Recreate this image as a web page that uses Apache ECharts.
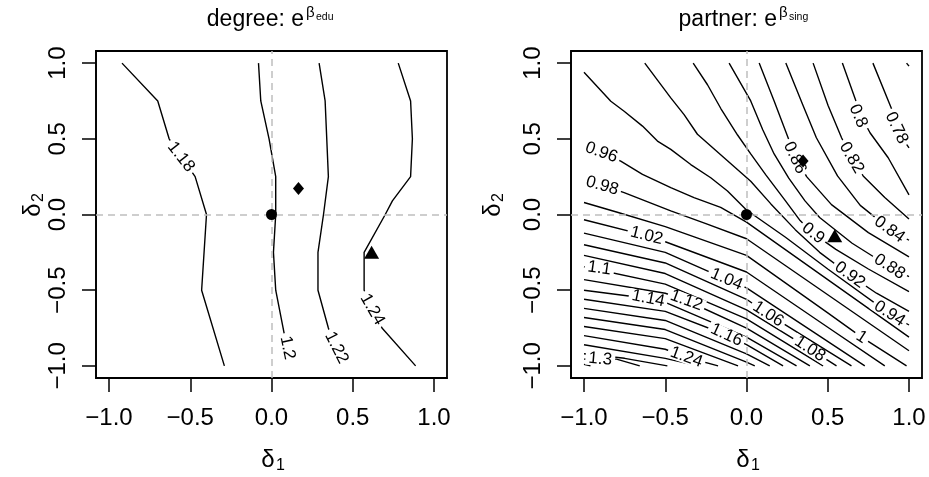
<!DOCTYPE html>
<html>
<head>
<meta charset="utf-8">
<script src="https://cdn.jsdelivr.net/npm/echarts@6.0.0/dist/echarts.min.js"></script>
<style>
html, body { margin: 0; padding: 0; background: #fff; }
#main { width: 929px; height: 477px; }
</style>
</head>
<body>
<div id="main"></div>
<script>
var FONT = '"Liberation Sans", Arial, sans-serif';

// axis ticks
var ticks = [-1, -0.5, 0, 0.5, 1];
var tickLabels = ['\u22121.0', '\u22120.5', '0.0', '0.5', '1.0'];

// left panel: degree, contour levels and their paths
var degreeLevels = ['1.18', '1.2', '1.22', '1.24'];
var degreeLines = [
  [[-0.92, 1], [-0.70, 0.75], [-0.63, 0.5], [-0.47, 0.25], [-0.40, 0], [-0.43, -0.5], [-0.29, -1]],
  [[-0.08, 1], [-0.066, 0.75], [-0.015, 0.5], [0.026, 0.25], [0.026, 0], [0.012, -0.25], [0.026, -0.5], [0.077, -0.78], [0.098, -0.94]],
  [[0.293, 1], [0.33, 0.75], [0.34, 0.5], [0.35, 0.25], [0.32, 0], [0.286, -0.25], [0.286, -0.5], [0.35, -0.75], [0.41, -0.94]],
  [[0.78, 1], [0.856, 0.75], [0.867, 0.5], [0.856, 0.25], [0.744, 0.09], [0.70, 0], [0.57, -0.25], [0.57, -0.5], [0.68, -0.75], [0.887, -1]]
];
// label: x, y, angle
var degreeLabelPos = [[-0.557, 0.38, -52], [0.098, -0.88, -78], [0.40, -0.88, -63], [0.62, -0.627, -60]];
var degreePoints = [[0, 0], [0.166, 0.171], [0.616, -0.25]];

// right panel: partner
var partnerLevels = ['0.76', '0.78', '0.8', '0.82', '0.84', '0.86', '0.88', '0.9', '0.92', '0.94', '0.96', '0.98', '1',
  '1.02', '1.04', '1.06', '1.08', '1.1', '1.12', '1.14', '1.16', '1.18', '1.2', '1.22', '1.24', '1.26', '1.28', '1.3', '1.32'];
var partnerLines = [
  [[0.985, 1], [1, 0.98]],
  [[0.778, 1], [0.892, 0.70], [0.95, 0.52], [1, 0.44]],
  [[0.59, 1], [0.667, 0.77], [0.71, 0.64], [0.76, 0.54], [0.872, 0.375], [1, 0.13]],
  [[0.41, 1], [0.502, 0.72], [0.585, 0.507], [0.646, 0.375], [0.718, 0.255], [0.851, 0.112], [1, -0.03]],
  [[0.242, 1], [0.348, 0.72], [0.43, 0.507], [0.56, 0.255], [0.70, 0.06], [0.88, -0.095], [1, -0.17]],
  [[0.078, 1], [0.17, 0.75], [0.256, 0.507], [0.297, 0.39], [0.37, 0.25], [0.523, 0.065], [0.75, -0.12], [1, -0.28]],
  [[-0.107, 1], [0.026, 0.75], [0.10, 0.56], [0.17, 0.40], [0.26, 0.24], [0.36, 0.09], [0.45, -0.02], [0.65, -0.19], [0.88, -0.345], [1, -0.41]],
  [[-0.328, 1], [-0.24, 0.857], [-0.158, 0.70], [-0.055, 0.525], [0.026, 0.40], [0.12, 0.26], [0.24, 0.09], [0.33, -0.04], [0.41, -0.125], [0.55, -0.23], [0.75, -0.36], [1, -0.51]],
  [[-0.626, 1], [-0.466, 0.77], [-0.384, 0.66], [-0.302, 0.53], [-0.138, 0.375], [0.026, 0.22], [0.15, 0.07], [0.3, -0.10], [0.45, -0.25], [0.636, -0.40], [0.8, -0.52], [1, -0.64]],
  [[-1, 0.94], [-0.835, 0.748], [-0.753, 0.682], [-0.64, 0.584], [-0.548, 0.485], [-0.466, 0.43], [-0.343, 0.33], [-0.22, 0.243], [-0.117, 0.155], [0, 0.03], [0.24, -0.15], [0.5, -0.36], [0.88, -0.655], [1, -0.73]],
  [[-1, 0.45], [-0.886, 0.41], [-0.774, 0.353], [-0.64, 0.265], [-0.466, 0.178], [-0.323, 0.112], [-0.159, 0.047], [0, -0.05], [0.5, -0.43], [1, -0.81]],
  [[-1, 0.215], [-0.876, 0.19], [-0.753, 0.145], [-0.466, 0.024], [-0.25, -0.06], [0, -0.16], [0.5, -0.53], [1, -0.90]],
  [[-1, 0.079], [-0.795, 0.015], [-0.5, -0.08], [0, -0.27], [0.5, -0.65], [0.708, -0.81], [0.985, -1]],
  [[-1, -0.035], [-0.615, -0.14], [-0.5, -0.18], [0, -0.38], [0.5, -0.745], [0.851, -1]],
  [[-1, -0.123], [-0.5, -0.25], [-0.123, -0.428], [0, -0.485], [0.728, -1]],
  [[-1, -0.20], [-0.5, -0.32], [0, -0.56], [0.133, -0.658], [0.646, -1]],
  [[-1, -0.27], [-0.5, -0.39], [0, -0.63], [0.39, -0.888], [0.554, -1]],
  [[-1, -0.345], [-0.5, -0.46], [0, -0.69], [0.471, -1]],
  [[-1, -0.43], [-0.5, -0.52], [-0.37, -0.568], [0, -0.75], [0.39, -1]],
  [[-1, -0.50], [-0.605, -0.555], [-0.5, -0.58], [0, -0.81], [0.308, -1]],
  [[-1, -0.56], [-0.5, -0.64], [-0.123, -0.796], [0, -0.86], [0.225, -1]],
  [[-1, -0.62], [-0.5, -0.70], [0, -0.92], [0.143, -1]],
  [[-1, -0.68], [-0.5, -0.76], [0, -0.975], [0.051, -1]],
  [[-1, -0.74], [-0.5, -0.82], [-0.052, -1]],
  [[-1, -0.80], [-0.5, -0.89], [-0.37, -0.943], [-0.175, -1]],
  [[-1, -0.86], [-0.5, -0.95], [-0.30, -1]],
  [[-1, -0.92], [-0.75, -0.95], [-0.487, -1]],
  [[-1, -0.955], [-0.8, -0.955], [-0.657, -1]],
  [[-1, -0.99], [-0.96, -1]]
];
// labelled levels only: text, x, y, angle
var partnerLabelText = ['0.78', '0.8', '0.82', '0.84', '0.86', '0.88', '0.9', '0.92', '0.94', '0.96', '0.98', '1',
  '1.02', '1.04', '1.06', '1.08', '1.1', '1.12', '1.14', '1.16', '1.24', '1.3'];
var partnerLabelPos = [
  [0.923, 0.572, -65], [0.687, 0.65, -67], [0.646, 0.375, -60], [0.88, -0.099, -36], [0.297, 0.375, -65],
  [0.88, -0.345, -33], [0.41, -0.125, -38], [0.636, -0.40, -36], [0.88, -0.655, -33], [-0.893, 0.41, -20],
  [-0.888, 0.19, -16], [0.708, -0.81, -33], [-0.615, -0.14, -14], [-0.123, -0.428, -23], [0.133, -0.658, -33],
  [0.39, -0.888, -33], [-0.905, -0.355, -8], [-0.37, -0.568, -20], [-0.605, -0.555, -12], [-0.123, -0.796, -25],
  [-0.37, -0.943, -20], [-0.9, -0.956, -5]
];
var partnerPoints = [[0, 0], [0.348, 0.353], [0.543, -0.14]];
var pointSymbols = ['circle', 'diamond', 'triangle'];
var pointSizes = [11, [11, 13], [15, 13]];

function fmtTick(v) {
  var i = ticks.indexOf(v);
  return i >= 0 ? tickLabels[i] : '';
}

function axisFor(gi, isY) {
  return {
    gridIndex: gi, type: 'value', min: -1.08, max: 1.08,
    axisLine: { show: true, onZero: false, lineStyle: { color: '#000', width: 1.5 } },
    splitLine: { show: false },
    axisTick: { show: true, customValues: ticks, length: 14, lineStyle: { color: '#000', width: 1.5 } },
    axisLabel: {
      customValues: ticks, formatter: fmtTick, fontSize: 24, color: '#000', fontFamily: FONT,
      margin: isY ? 26 : 28, rotate: isY ? 90 : 0
    }
  };
}

function buildPanel(gi, lines, labelText, labelPos, points) {
  var out = [];
  // dashed reference lines at 0
  out.push({
    type: 'line', xAxisIndex: gi, yAxisIndex: gi, data: [[0, 0]], symbol: 'none', silent: true, z: 1,
    lineStyle: { opacity: 0 },
    markLine: {
      silent: true, symbol: 'none', label: { show: false },
      lineStyle: { color: '#bebebe', type: [7, 5], width: 1.5, opacity: 1 },
      emphasis: { disabled: true },
      data: [{ xAxis: 0 }, { yAxis: 0 }]
    }
  });
  lines.forEach(function (pts) {
    out.push({
      type: 'line', xAxisIndex: gi, yAxisIndex: gi, data: pts, symbol: 'none', showSymbol: false,
      silent: true, z: 3, lineStyle: { color: '#000', width: 1.4 }
    });
  });
  out.push({
    type: 'scatter', xAxisIndex: gi, yAxisIndex: gi, symbolSize: 1, silent: true, z: 4,
    itemStyle: { color: 'rgba(0,0,0,0)' },
    label: {
      show: true, position: 'inside', formatter: function (p) { return p.name; },
      fontSize: 17, fontFamily: FONT, color: '#000', backgroundColor: '#fff',
      textBorderWidth: 0, textBorderColor: 'transparent', opacity: 1,
      padding: [0, 3], lineHeight: 13
    },
    data: labelPos.map(function (l, i) {
      return { name: labelText[i], value: [l[0], l[1]], label: { rotate: l[2] } };
    })
  });
  out.push({
    type: 'scatter', xAxisIndex: gi, yAxisIndex: gi, silent: true, z: 5,
    itemStyle: { color: '#000', opacity: 1 },
    data: points.map(function (p, i) {
      return { value: p, symbol: pointSymbols[i], symbolSize: pointSizes[i] };
    })
  });
  return out;
}

function sub(x, y, big, small, bigSize, smallSize, dx, dy, rot) {
  return {
    type: 'group', x: x, y: y, rotation: rot || 0,
    children: [
      { type: 'text', x: 0, y: 0, style: { text: big, fontSize: bigSize, fontFamily: FONT, fill: '#000', align: 'center', verticalAlign: 'middle' } },
      { type: 'text', x: dx, y: dy, style: { text: small, fontSize: smallSize, fontFamily: FONT, fill: '#000', align: 'left', verticalAlign: 'middle' } }
    ]
  };
}

var chart = echarts.init(document.getElementById('main'), null, { renderer: 'canvas' });
var option = {
  animation: false,
  backgroundColor: '#fff',
  textStyle: { fontFamily: FONT },
  grid: [
    { left: 96, top: 51, width: 351, height: 327, show: true, borderColor: '#000', borderWidth: 1.8, backgroundColor: 'transparent' },
    { left: 571, top: 51, width: 351, height: 327, show: true, borderColor: '#000', borderWidth: 1.8, backgroundColor: 'transparent' }
  ],
  xAxis: [axisFor(0, false), axisFor(1, false)],
  yAxis: [axisFor(0, true), axisFor(1, true)],
  series: buildPanel(0, degreeLines, degreeLevels, degreeLabelPos, degreePoints)
    .concat(buildPanel(1, partnerLines, partnerLabelText, partnerLabelPos, partnerPoints)),
  graphic: [
    { type: 'text', x: 304, y: 20, style: { text: 'degree: e', fontSize: 23, fontFamily: FONT, fill: '#000', align: 'right', verticalAlign: 'middle' } },
    { type: 'text', x: 306, y: 13, style: { text: '\u03b2', fontSize: 15, fontFamily: FONT, fill: '#000', align: 'left', verticalAlign: 'middle' } },
    { type: 'text', x: 316, y: 17, style: { text: 'edu', fontSize: 10.5, fontFamily: FONT, fill: '#000', align: 'left', verticalAlign: 'middle' } },
    { type: 'text', x: 777, y: 20, style: { text: 'partner: e', fontSize: 23, fontFamily: FONT, fill: '#000', align: 'right', verticalAlign: 'middle' } },
    { type: 'text', x: 779, y: 13, style: { text: '\u03b2', fontSize: 15, fontFamily: FONT, fill: '#000', align: 'left', verticalAlign: 'middle' } },
    { type: 'text', x: 789, y: 17, style: { text: 'sing', fontSize: 10.5, fontFamily: FONT, fill: '#000', align: 'left', verticalAlign: 'middle' } },
    sub(268, 460, '\u03b4', '1', 24, 16, 8, 6, 0),
    sub(743, 460, '\u03b4', '1', 24, 16, 8, 6, 0),
    sub(33, 210, '\u03b4', '2', 24, 16, 8, 6, Math.PI / 2),
    sub(493, 210, '\u03b4', '2', 24, 16, 8, 6, Math.PI / 2)
  ]
};
chart.setOption(option);
window.addEventListener('resize', function () { chart.resize(); });
</script>
</body>
</html>
